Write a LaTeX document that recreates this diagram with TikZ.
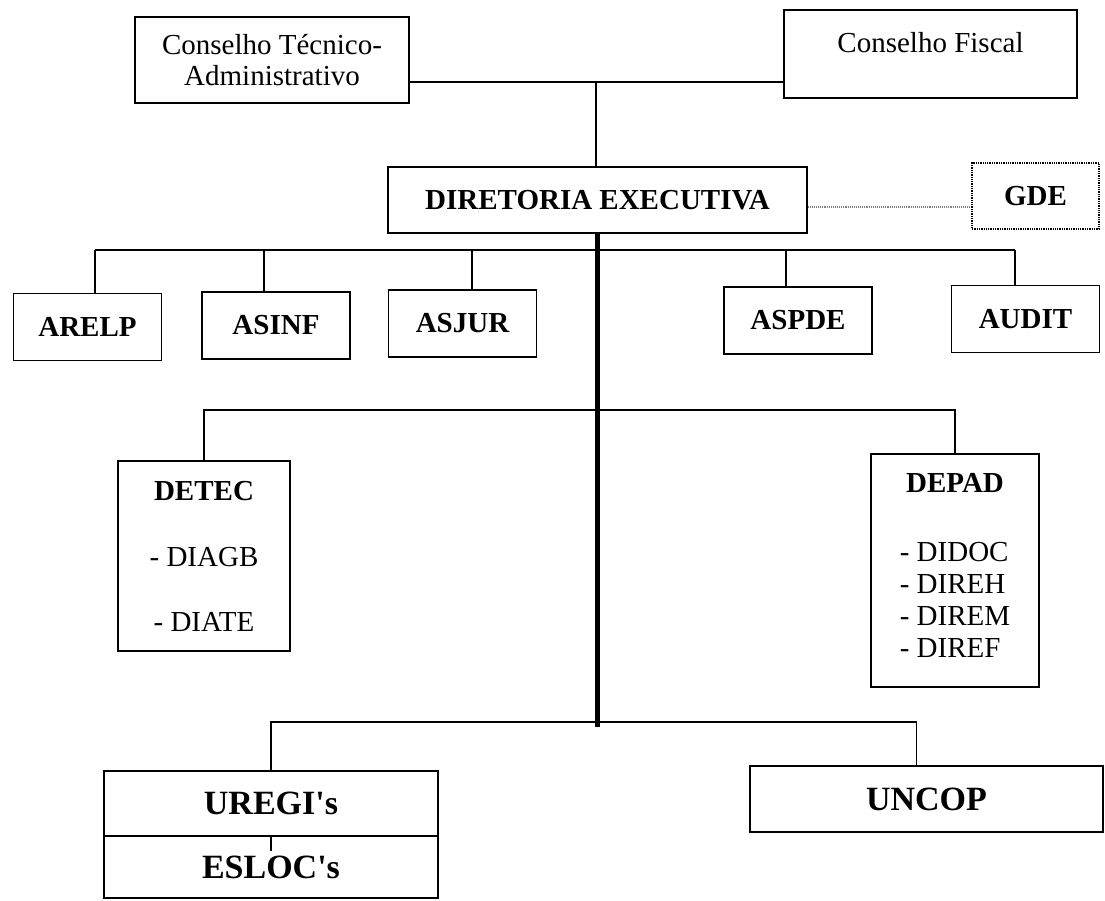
\documentclass[tikz,border=0pt]{standalone}
\usepackage{fontspec}
\setmainfont{Liberation Serif}
\newcommand\orgfont{\fontsize{29}{31}\selectfont}
\newcommand\listfont{\fontsize{29}{32}\selectfont}
\newcommand\bigorgfont{\fontsize{34}{38}\selectfont}
\tikzset{
  orgbox/.style={draw, line width=1.3pt, inner sep=0pt, font=\orgfont},
  boldbox/.style={orgbox, font=\bfseries\orgfont},
  unitbox/.style={orgbox, font=\bfseries\bigorgfont},
  dotbox/.style={boldbox, densely dotted},
  link/.style={line width=1.1pt},
  spine/.style={line width=4.5pt},
}
\begin{document}
\begin{tikzpicture}[x=1pt,y=-1pt]
\useasboundingbox (0,0) rectangle (1105,900);
% conselhos e diretoria
\node[orgbox, align=center, minimum width=274pt, minimum height=86pt] (cta) at (272,60) {Conselho Técnico-\\Administrativo};
\node[orgbox, minimum width=293pt, minimum height=88pt, text height=18pt, text depth=22pt] (cf) at (930.5,54) {Conselho Fiscal};
\node[boldbox, minimum width=419pt, minimum height=66pt] (de) at (597.5,200) {DIRETORIA EXECUTIVA};
\node[dotbox, minimum width=127pt, minimum height=66pt] (gde) at (1035.5,196) {GDE};
\coordinate (cjoin) at (596,82);
\draw[link] (cta.east |- cjoin) -- (cf.west |- cjoin);
\draw[link] (cjoin) -- (cjoin |- de.north);
\draw[link, densely dotted, gray] ([yshift=-7pt]de.east) -- ([yshift=-7pt]de.east -| gde.west);
% assessorias
\coordinate (staffbus) at (0,250);
\foreach \nm/\txt/\cx/\cy/\dx in {arelp/ARELP/87.5/327/7.5, asinf/ASINF/276/325.5/-12,
    asjur/ASJUR/462.5/323.5/9.5, aspde/ASPDE/798/320.5/-12, audit/AUDIT/1025.5/319/-10.5}{
  \node[boldbox, minimum width=148pt, minimum height=67pt] (\nm) at (\cx,\cy) {\txt};
  \draw[link] ([xshift=\dx pt]\nm.north) -- ([xshift=\dx pt]\nm.north |- staffbus);
}
\draw[link] ([xshift=7.5pt]arelp.north |- staffbus) -- ([xshift=-10.5pt]audit.north |- staffbus);
% departamentos
\node[orgbox, align=center, minimum width=172pt, minimum height=190pt] (detec) at (204,556)
  {\textbf{DETEC}\\[35pt]- DIAGB\\[34pt]- DIATE};
\node[orgbox, font=\listfont, align=center, minimum width=168pt, minimum height=233pt] (depad) at (955,570.5)
  {\textbf{DEPAD}\\[37pt]\begin{tabular}[t]{@{}l@{}}- DIDOC\\- DIREH\\- DIREM\\- DIREF\end{tabular}};
\coordinate (deptbus) at (0,410);
\draw[link] (detec.north) |- (deptbus -| depad.north) -- (depad.north);
% unidades
\node[unitbox, minimum width=334pt, minimum height=65pt] (uregi) at (271,803.5) {UREGI\textquotesingle s};
\node[unitbox, minimum width=334pt, minimum height=62pt] (esloc) at (271,867) {ESLOC\textquotesingle s};
\node[unitbox, minimum width=353pt, minimum height=66pt] (uncop) at (926.5,799) {UNCOP};
\draw[link] (esloc.north) -- ++(0,16);
\coordinate (unitbus) at (0,722);
\draw[link] (uregi.north) |- ([xshift=-10pt]uncop.north |- unitbus) -- ([xshift=-10pt]uncop.north);
% linha principal
\coordinate (spineend) at (598,727);
\draw[spine] (de.south) -- (de.south |- spineend);
\end{tikzpicture}
\end{document}
